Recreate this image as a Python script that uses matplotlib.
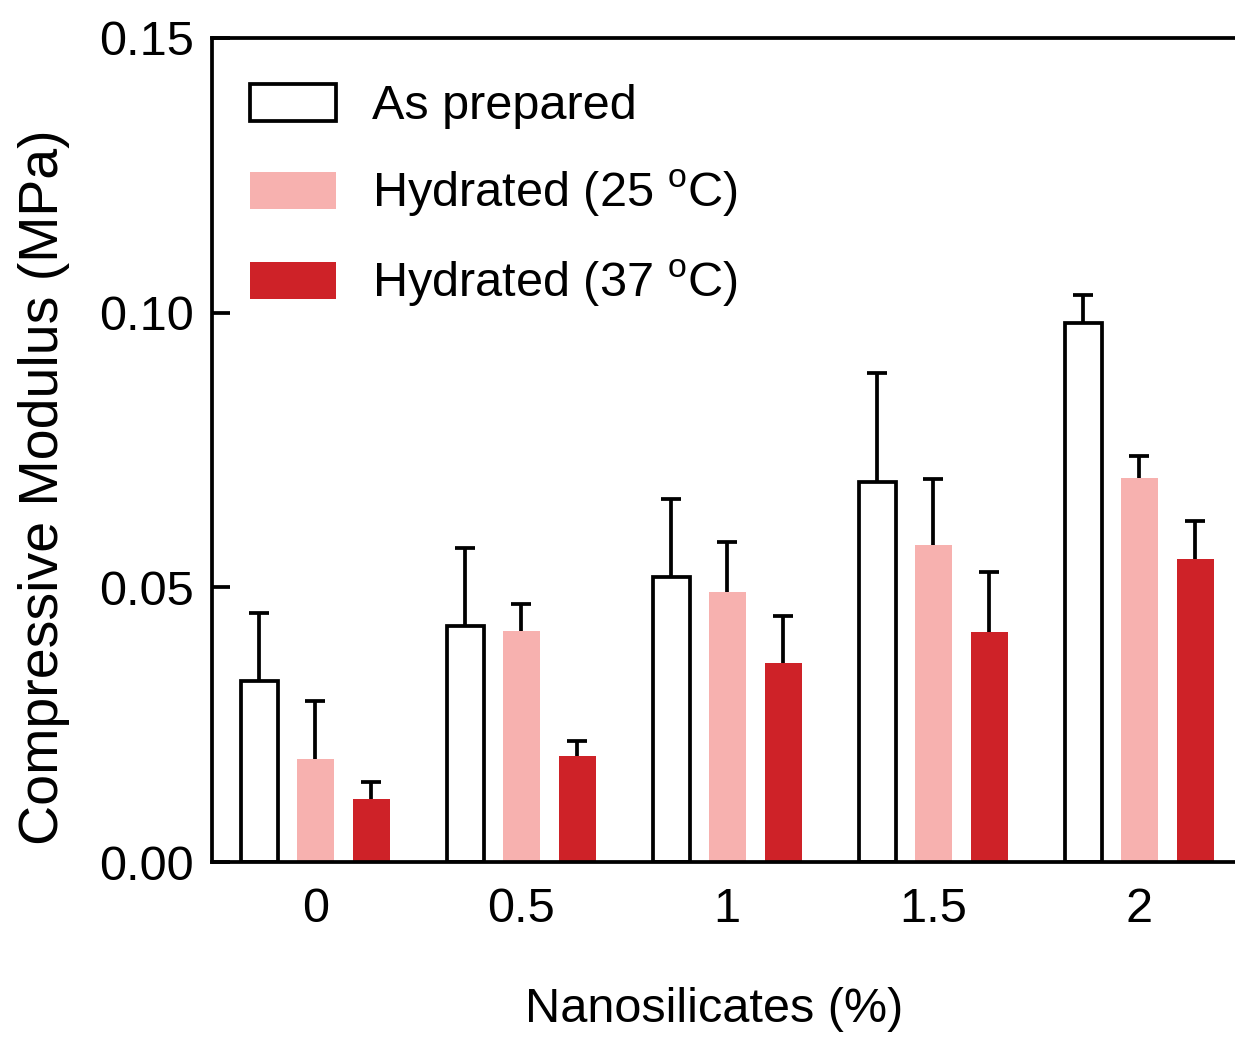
import numpy as np
import matplotlib
matplotlib.use('Agg')
import matplotlib.pyplot as plt

plt.rcParams['font.family'] = ['Liberation Sans', 'DejaVu Sans']
plt.rcParams['mathtext.fontset'] = 'custom'
plt.rcParams['mathtext.rm'] = 'Liberation Sans'

# data
groups = ['0', '0.5', '1', '1.5', '2']
as_prepared = [0.0330, 0.0430, 0.0519, 0.0692, 0.0981]
as_prepared_err = [0.0123, 0.0142, 0.0142, 0.0198, 0.0051]
hyd25 = [0.0188, 0.0420, 0.0492, 0.0577, 0.0699]
hyd25_err = [0.0105, 0.0050, 0.0091, 0.0120, 0.0040]
hyd37 = [0.0115, 0.0193, 0.0362, 0.0419, 0.0552]
hyd37_err = [0.0031, 0.0027, 0.0086, 0.0109, 0.0069]
labels = ['As prepared', r'Hydrated (25 $^{\rm o}$C)', r'Hydrated (37 $^{\rm o}$C)']

pink = '#F7B1AF'
red = '#CE2228'

fig = plt.figure(figsize=(12.35, 10.44), dpi=100)
ax = fig.add_axes([212/1235, 182/1044, 1023/1235, 824/1044])

x = np.arange(len(groups))
w = 0.18
off = 0.272
lw = 2.7

series = [
    (as_prepared, as_prepared_err, -off, dict(facecolor='white', edgecolor='black', linewidth=lw)),
    (hyd25, hyd25_err, 0, dict(facecolor=pink, edgecolor='none')),
    (hyd37, hyd37_err, off, dict(facecolor=red, edgecolor='none')),
]

handles = []
for (vals, err, dx, style), lab in zip(series, labels):
    b = ax.bar(x + dx, vals, w, label=lab, zorder=2, **style)
    handles.append(b)
    # symmetric bars drawn behind the bars so only the upper half shows
    ax.errorbar(x + dx, vals, yerr=err, fmt='none',
                ecolor='black', elinewidth=lw, capsize=7, capthick=lw, zorder=1)

ax.set_xlim(-0.502, 4.466)
ax.set_ylim(0, 0.15)
ax.set_yticks([0, 0.05, 0.10, 0.15])
ax.set_yticklabels(['0.00', '0.05', '0.10', '0.15'])
ax.set_xticks(x)
ax.set_xticklabels(groups)

ax.spines['right'].set_visible(False)
for s in ['left', 'bottom', 'top']:
    ax.spines[s].set_linewidth(lw)
    ax.spines[s].set_zorder(3)

ax.tick_params(axis='y', direction='in', length=13, width=lw, labelsize=35, pad=13)
ax.tick_params(axis='x', length=0, labelsize=35, pad=18)

ax.set_xlabel('Nanosilicates (%)', fontsize=35)
ax.set_ylabel('Compressive Modulus (MPa)', fontsize=40)
ax.xaxis.set_label_coords(0.491, -0.152)
ax.yaxis.set_label_coords(-0.139, 0.455)

ax.legend(handles=handles, loc='upper left', bbox_to_anchor=(0.037, 0.944),
          frameon=False, fontsize=35, handlelength=1.78, handleheight=0.78,
          handletextpad=0.74, labelspacing=0.8, borderpad=0, borderaxespad=0)

fig.savefig('out.png', dpi=100)
